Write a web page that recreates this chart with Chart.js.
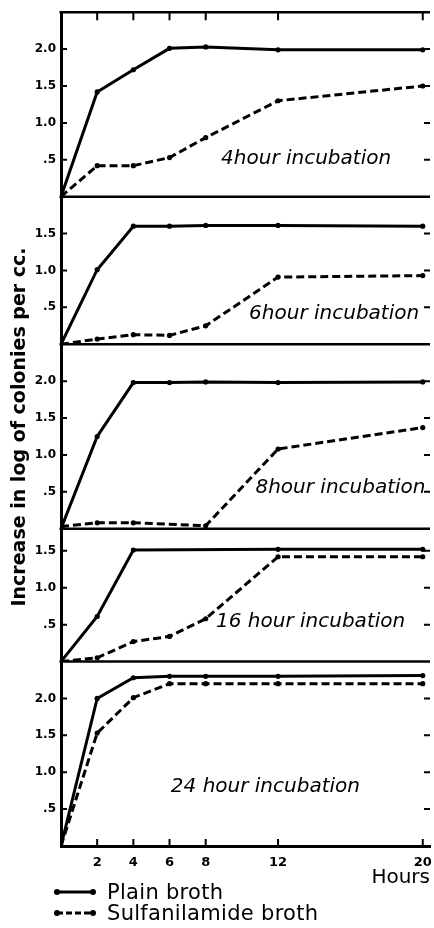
<!DOCTYPE html>
<html>
<head>
<meta charset="utf-8">
<script src="https://cdn.jsdelivr.net/npm/chart.js@4.4.1/dist/chart.umd.min.js"></script>
<style>
  body { margin: 0; background: #fff; }
  #wrap { position: relative; width: 434px; height: 928px; }
  #legend { position: absolute; left: 53px; top: 881px; font: 21px 'DejaVu Sans'; color: #000; letter-spacing: 0.3px; }
  #legend .row { display: flex; align-items: center; height: 21px; }
  #legend svg { margin-right: 10px; }
</style>
</head>
<body>
<div id="wrap">
  <canvas id="chart" width="434" height="890"></canvas>
  <div id="legend">
    <div class="row">
      <svg width="44" height="10"><line x1="4" y1="5" x2="40" y2="5" stroke="#000" stroke-width="3"/><circle cx="4" cy="5" r="3"/><circle cx="40" cy="5" r="3"/></svg>
      <span>Plain broth</span>
    </div>
    <div class="row">
      <svg width="44" height="10"><line x1="4" y1="5" x2="40" y2="5" stroke="#000" stroke-width="3" stroke-dasharray="6 3"/><circle cx="4" cy="5" r="3"/><circle cx="40" cy="5" r="3"/></svg>
      <span>Sulfanilamide broth</span>
    </div>
  </div>
</div>
<script>
const hours = [0, 2, 4, 6, 8, 12, 20];
const xTicks = [2, 4, 6, 8, 12, 20];
const yTicks = [0.5, 1.0, 1.5, 2.0];

const panelTitles = ['4hour incubation', '6hour incubation', '8hour incubation', '16 hour incubation', '24 hour incubation'];
const panelMax = [2.5, 2.0, 2.5, 1.8, 2.5];

// increase in log of colonies per cc, one value per entry of hours
const plain4 = [0, 1.42, 1.72, 2.01, 2.03, 1.99, 1.99];
const sulfa4 = [0, 0.42, 0.42, 0.53, 0.80, 1.30, 1.50];
const plain6 = [0, 1.01, 1.60, 1.60, 1.61, 1.61, 1.60];
const sulfa6 = [0, 0.07, 0.13, 0.12, 0.25, 0.91, 0.93];
const plain8 = [0, 1.25, 1.98, 1.98, 1.99, 1.98, 1.99];
const sulfa8 = [0.03, 0.08, 0.08, null, 0.04, 1.08, 1.37];
const plain16 = [0, 0.61, 1.51, null, null, 1.52, 1.52];
const sulfa16 = [0, 0.05, 0.27, 0.34, 0.58, 1.42, 1.42];
const plain24 = [0, 2.00, 2.28, 2.30, 2.30, 2.30, 2.31];
const sulfa24 = [0, 1.53, 2.01, 2.20, 2.20, 2.20, 2.20];

const plainSeries = [plain4, plain6, plain8, plain16, plain24];
const sulfaSeries = [sulfa4, sulfa6, sulfa8, sulfa16, sulfa24];

// where each panel caption sits, in hours / log units
const captionAt = [[13.55, 0.51], [15.1, 0.41], [15.45, 0.55], [13.8, 0.54], [11.3, 0.8]];

const ink = '#000';
const toPoints = arr => hours.map((h, i) => ({ x: h, y: arr[i] }));

const datasets = [];
const scales = {
  x: {
    type: 'linear', min: 0, max: 20.4, position: 'bottom',
    afterBuildTicks: s => { s.ticks = xTicks.map(v => ({ value: v })); },
    afterFit: s => { s.height = 44; s.paddingLeft = 0; s.paddingRight = 0; },
    ticks: { color: ink, padding: 9, maxRotation: 0, autoSkip: false, font: { family: 'DejaVu Sans', size: 13, weight: 'bold' } },
    grid: { drawOnChartArea: false, drawTicks: false },
    border: { width: 3, color: ink },
    title: { display: true, text: 'Hours', align: 'end', color: ink, padding: { top: 0, bottom: 0 }, font: { family: 'DejaVu Sans', size: 20 } }
  }
};

panelTitles.forEach((t, i) => {
  const id = 'y' + (i + 1);
  const max = panelMax[i];
  scales[id] = {
    type: 'linear', position: 'left', stack: 'panels', stackWeight: max, weight: 10 - i,
    min: 0, max: max,
    afterBuildTicks: s => { s.ticks = yTicks.filter(v => v < max).map(v => ({ value: v })); },
    afterFit: s => { s.width = 61; },
    ticks: {
      color: ink, padding: 5,
      font: { family: 'DejaVu Sans', size: 12, weight: 'bold' },
      callback: v => v === 0.5 ? '.5' : v.toFixed(1)
    },
    grid: { drawOnChartArea: false, drawTicks: false },
    border: { width: 3, color: ink }
  };
  datasets.push({
    label: 'Plain broth', yAxisID: id, data: toPoints(plainSeries[i]),
    borderColor: ink, backgroundColor: ink, borderWidth: 3,
    pointRadius: 2.6, pointBorderWidth: 0, spanGaps: true, tension: 0
  });
  datasets.push({
    label: 'Sulfanilamide broth', yAxisID: id, data: toPoints(sulfaSeries[i]),
    borderColor: ink, backgroundColor: ink, borderWidth: 3, borderDash: [8, 4],
    pointRadius: 2.6, pointBorderWidth: 0, spanGaps: true, tension: 0
  });
});

const framePlugin = {
  id: 'frame',
  afterDraw(chart) {
    const ctx = chart.ctx;
    const { left, right } = chart.chartArea;
    const xs = chart.scales.x;
    ctx.save();
    ctx.strokeStyle = ink;
    ctx.fillStyle = ink;
    panelTitles.forEach((t, i) => {
      const ys = chart.scales['y' + (i + 1)];
      // panel top line
      ctx.lineWidth = 2.5;
      ctx.beginPath();
      ctx.moveTo(left - 1.5, ys.top);
      ctx.lineTo(right, ys.top);
      ctx.stroke();
      // inward ticks on left and right
      ctx.lineWidth = 2;
      yTicks.filter(v => v < panelMax[i]).forEach(v => {
        const py = ys.getPixelForValue(v);
        ctx.beginPath();
        ctx.moveTo(left, py); ctx.lineTo(left + 6, py);
        ctx.moveTo(right - 6, py); ctx.lineTo(right, py);
        ctx.stroke();
      });
      // caption
      ctx.font = 'italic 20px "DejaVu Sans"';
      ctx.textAlign = 'center';
      ctx.textBaseline = 'middle';
      ctx.fillText(t, xs.getPixelForValue(captionAt[i][0]), ys.getPixelForValue(captionAt[i][1]));
    });
    // hour ticks on top and bottom of the stack
    const topY = chart.scales.y1.top;
    const botY = chart.scales.y5.bottom;
    ctx.lineWidth = 2;
    xTicks.forEach(v => {
      const px = xs.getPixelForValue(v);
      ctx.beginPath();
      ctx.moveTo(px, topY); ctx.lineTo(px, topY + 8);
      ctx.moveTo(px, botY); ctx.lineTo(px, botY - 7);
      ctx.stroke();
    });
    // shared y title
    ctx.save();
    ctx.translate(20, 427);
    ctx.rotate(-Math.PI / 2);
    ctx.font = 'bold 19px "DejaVu Sans"';
    ctx.textAlign = 'center';
    ctx.textBaseline = 'middle';
    ctx.fillText('Increase in log of colonies per cc.', 0, 0);
    ctx.restore();
    ctx.restore();
  }
};

new Chart(document.getElementById('chart'), {
  type: 'line',
  data: { datasets: datasets },
  options: {
    responsive: false,
    animation: false,
    layout: { padding: { top: 8, left: 0, right: 0, bottom: 0 } },
    plugins: { legend: { display: false }, tooltip: { enabled: false } },
    scales: scales
  },
  plugins: [framePlugin]
});
</script>
</body>
</html>
